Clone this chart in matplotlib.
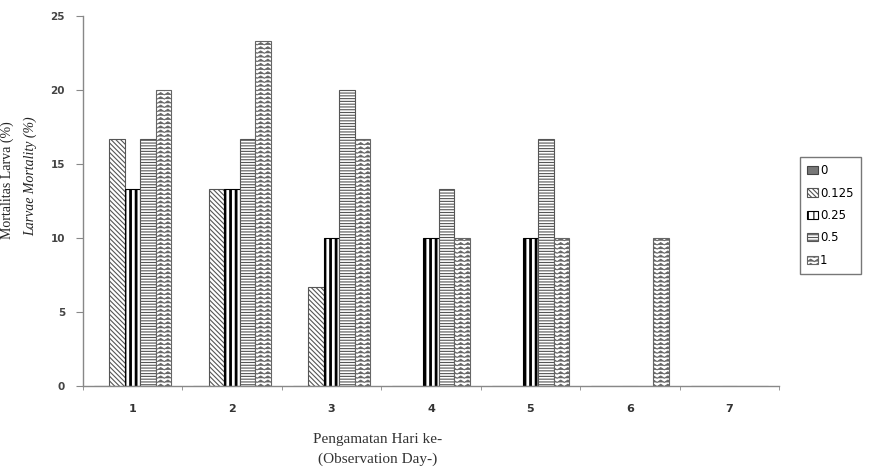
import numpy as np
import matplotlib
matplotlib.use("Agg")
import matplotlib.pyplot as plt
import matplotlib.hatch as mhatch
from matplotlib.path import Path

# ---------------- data ----------------
days = ["1", "2", "3", "4", "5", "6", "7"]
series_names = ["0", "0.125", "0.25", "0.5", "1"]
s_0 = [0, 0, 0, 0, 0, 0, 0]
s_0125 = [16.67, 13.33, 6.67, 0, 0, 0, 0]
s_025 = [13.33, 13.33, 10, 10, 10, 0, 0]
s_05 = [16.67, 16.67, 20, 13.33, 16.67, 0, 0]
s_1 = [20, 23.33, 16.67, 10, 10, 10, 0]
y_ticks = [0, 5, 10, 15, 20, 25]


# ---------------- custom zigzag hatch (replaces '*' stars) ----------------
class ZigzagHatch(mhatch.HatchPatternBase):
    def __init__(self, hatch, density):
        self.num_lines = int(hatch.count('*') * density)
        self.periods = 14
        self.num_vertices = self.num_lines * (2 * self.periods + 1)

    def set_vertices_and_codes(self, vertices, codes):
        steps, stepsize = np.linspace(0.0, 1.0, self.num_lines, False, retstep=True)
        steps += stepsize / 2.0
        n = 2 * self.periods + 1
        xs = np.linspace(0.0, 1.0, n)
        amp = stepsize * 0.28
        off = np.where(np.arange(n) % 2 == 0, -amp, amp)
        for i, s in enumerate(steps):
            vertices[i * n:(i + 1) * n, 0] = xs
            vertices[i * n:(i + 1) * n, 1] = s + off
            codes[i * n] = Path.MOVETO
            codes[i * n + 1:(i + 1) * n] = Path.LINETO


mhatch._hatch_types = [t for t in mhatch._hatch_types if t is not mhatch.Stars] + [ZigzagHatch]

plt.rcParams['hatch.linewidth'] = 0.8

fig = plt.figure(figsize=(8.85, 4.76), dpi=100)
ax = fig.add_axes([83 / 885, 1 - 386 / 476, (779 - 83) / 885, (386 - 16) / 476])

data = [s_0, s_0125, s_025, s_05, s_1]
hatches = ["", "\\\\\\\\\\\\\\", "|||", "------", "****"]
faces = ["#777777", "white", "white", "white", "white"]
edges = ["#444444", "#555555", "#000000", "#555555", "#666666"]
hlw = [0.8, 0.8, 2.0, 0.8, 0.7]

x = np.arange(len(days))
w = 0.156
for i, (vals, name) in enumerate(zip(data, series_names)):
    with plt.rc_context({'hatch.linewidth': hlw[i]}):
        bars = ax.bar(x + (i - 2) * w, vals, width=w, color=faces[i], edgecolor=edges[i],
                      hatch=hatches[i], linewidth=0.8, label=name, zorder=2)
        for b in bars:
            if hasattr(b, "set_hatch_linewidth"):
                b.set_hatch_linewidth(hlw[i])

ax.set_xlim(-0.5, len(days) - 0.5)
ax.set_ylim(0, 25)
ax.set_yticks(y_ticks)
ax.set_yticklabels([str(v) for v in y_ticks], fontsize=7.5, fontweight="bold", color="#444444",
                   family="DejaVu Sans")
ax.set_xticks(x)
ax.set_xticklabels(days, fontsize=8, fontweight="bold", color="#333333", family="DejaVu Sans")
ax.set_xticks(np.arange(-0.5, len(days), 1.0), minor=True)
ax.tick_params(axis="x", which="major", length=0, pad=13)
ax.tick_params(axis="x", which="minor", length=3, color="#888888", direction="out")
ax.tick_params(axis="y", length=5, color="#888888", direction="out", pad=8)

for sp in ["top", "right"]:
    ax.spines[sp].set_visible(False)
for sp in ["left", "bottom"]:
    ax.spines[sp].set_color("#888888")
    ax.spines[sp].set_linewidth(1.0)

# y-axis labels (two lines)
fig.text(7 / 885, 1 - 180 / 476, "Mortalitas Larva (%)", rotation=90, ha="center", va="center",
         family="Liberation Serif", fontsize=10, color="#222222")
fig.text(30 / 885, 1 - 176 / 476, "Larvae Mortality (%)", rotation=90, ha="center", va="center",
         family="Liberation Serif", fontsize=10, style="italic", color="#222222")

# x-axis labels
fig.text(378 / 885, 1 - 440 / 476, "Pengamatan Hari ke-", ha="center", va="center",
         family="Liberation Serif", fontsize=11, color="#333333")
fig.text(378 / 885, 1 - 459 / 476, "(Observation Day-)", ha="center", va="center",
         family="Liberation Serif", fontsize=11, color="#333333")

leg = fig.legend(loc="upper left", bbox_to_anchor=(800 / 885, 1 - 157 / 476),
                 prop={"family": "DejaVu Sans", "size": 8.5}, frameon=True, fancybox=False,
                 handlelength=0.9, handleheight=0.7, handletextpad=0.2, labelspacing=0.8,
                 borderpad=0.6, borderaxespad=0)
leg.get_frame().set_edgecolor("#555555")
leg.get_frame().set_linewidth(1.0)

fig.savefig("out.png", dpi=100)
